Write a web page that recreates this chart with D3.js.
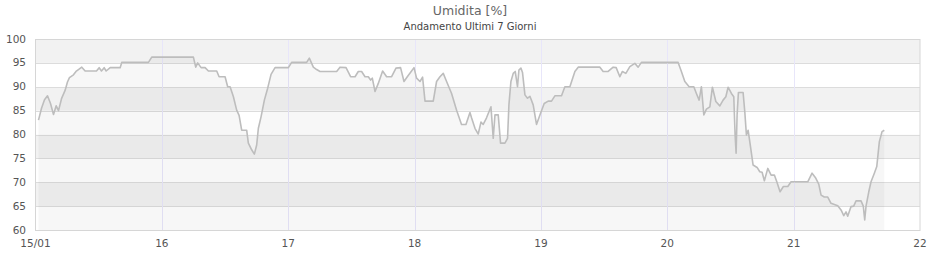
<!doctype html>
<html>
<head>
<meta charset="utf-8">
<style>
    body { margin: 0; background: #fff; }
    text { font-family: "DejaVu Sans", sans-serif; }
</style>
<script src="https://d3js.org/d3.v7.min.js"></script>
</head>
<body>
<svg width="940" height="260"></svg>
<script>
// ore dal 15/01 00:00, umidita in %
var ore = [0.57,1.14,1.71,2.28,2.85,3.42,3.93,4.37,4.94,5.64,6.07,6.45,7.21,7.69,8.16,8.79,9.43,10.44,11.58,12.09,
    12.53,13.04,13.42,14.18,16.08,16.38,21.45,22.08,29.99,30.43,30.81,31.45,32.21,32.84,34.42,34.87,36.01,36.50,36.96,37.59,
    38.21,38.67,39.16,40.11,40.43,41.06,41.57,42.01,42.33,42.84,43.47,44.10,44.74,45.50,48.03,48.65,51.50,52.01,52.77,53.40,
    54.04,57.20,57.84,58.98,59.85,60.69,61.31,61.94,62.59,63.21,63.65,63.97,64.49,65.11,65.93,66.69,67.64,68.47,69.34,69.99,
    70.62,71.43,71.89,72.38,73.03,73.52,73.98,75.55,76.18,76.82,77.45,78.08,79.03,79.98,80.92,81.76,82.52,82.82,83.47,84.09,
    84.61,85.04,85.67,86.51,86.94,87.27,87.89,88.33,89.16,89.66,89.92,90.30,90.74,91.12,91.55,91.82,92.20,92.50,92.96,93.45,
    93.91,94.53,95.16,95.81,96.62,97.38,98.01,98.65,99.91,100.55,101.50,102.45,103.08,107.20,107.82,108.77,109.72,110.29,110.99,111.48,
    112.13,112.89,113.84,114.47,115.09,122.06,122.68,123.33,124.15,125.04,125.53,126.05,126.48,126.94,127.43,128.08,128.57,129.22,129.98,130.60,
    131.12,131.55,132.18,132.63,132.88,133.07,133.26,133.51,134.40,134.72,135.03,135.35,135.67,136.30,137.06,137.57,138.01,138.44,139.09,139.72,
    140.34,140.80,141.42,142.05,142.89,143.51,146.68,147.50,148.12,148.77,149.21,149.83,150.48,151.10,152.38,153.00,153.52,153.95,154.27,154.90,
    155.41,155.85,156.80,157.23,157.50,157.75,158.27,158.70,159.33,159.79,160.28,160.79,161.22];
var umidita = [83,85.5,87.3,88.1,86.5,84.2,86,85,87.5,89.3,91,91.9,92.5,93.2,93.6,94.1,93.3,93.3,93.3,94,
    93.3,94,93.3,94,94,95.1,95.1,96.2,96.2,94.1,95,94,94,93.3,93.3,92.1,92.1,90,90,87.9,
    85.1,84,80.9,80.9,78.2,76.8,75.9,77.8,81.3,83.7,87.2,89.7,92.6,94,94,95.1,95.1,96,94.1,93.6,
    93.2,93.2,94.1,94,92.1,92.1,93.2,93.2,92.1,92.1,91.4,91.8,89,90.7,93.3,92.1,92.1,93.9,94,91.1,
    92.1,93.3,94,91.8,91.1,92,87,87,91.1,92.1,92.8,91.1,88.6,85.1,82.1,82.1,84.6,83.5,81.3,80.1,
    82.6,82.1,83.5,85.8,79.2,84.1,84.1,78.2,78.2,79.2,86.2,91.1,92.8,93.2,90,93.5,93.9,93,88.3,87.6,
    88,86.2,82.1,84.1,86.5,87,87,88.1,88.1,90,90,93.2,94.1,94.1,93.2,93.2,94.1,94,92.1,93.2,
    92.8,94.2,94.9,94.1,95.1,95.1,93.2,91.1,90,90,88.6,87.2,90,84.1,85.3,85.8,89.9,86.9,86,87.2,
    87.9,89.9,88.6,87.9,79.9,76.1,84.1,88.8,88.8,84.8,79.9,80.9,78.5,73.6,73.1,72.2,72.1,70.3,72.9,71.5,
    71.5,70.1,68,69.1,69.1,70.1,70.1,71.9,71,69.6,67.3,66.9,66.9,65.6,65.1,64.2,63,63.8,62.9,64.9,
    65,66.1,66.1,65,62.1,65,68,70.1,71.9,73.3,78.5,80.6,80.9];

var yTicks = [60, 65, 70, 75, 80, 85, 90, 95, 100];
var xTicks = [0, 24, 48, 72, 96, 120, 144, 168];
var xLabels = ["15/01", "16", "17", "18", "19", "20", "21", "22"];

var svg = d3.select("svg");
var mLeft = 35.5, mRight = 920, mTop = 39, mBottom = 230;

var x = d3.scaleLinear().domain([0, 168]).range([mLeft, mRight]);
var y = d3.scaleLinear().domain([60, 100]).range([mBottom, mTop]);

var data = ore.map(function(h, i) { return { h: h, v: umidita[i] }; });

// fasce alternate
svg.append("g").selectAll("rect")
    .data(yTicks.slice(0, -1))
    .enter().append("rect")
    .attr("x", mLeft)
    .attr("width", mRight - mLeft)
    .attr("y", function(d) { return y(d + 5); })
    .attr("height", function(d) { return y(d) - y(d + 5); })
    .attr("fill", function(d, i) { return i % 2 == 1 ? "#f2f2f2" : "#ffffff"; });

// griglia orizzontale
svg.append("g").selectAll("line")
    .data(yTicks)
    .enter().append("line")
    .attr("x1", mLeft).attr("x2", mRight)
    .attr("y1", function(d) { return Math.round(y(d)) + 0.5; })
    .attr("y2", function(d) { return Math.round(y(d)) + 0.5; })
    .attr("stroke", "#dcdcdc");

// griglia verticale
svg.append("g").selectAll("line")
    .data(xTicks.slice(1, -1))
    .enter().append("line")
    .attr("x1", function(d) { return Math.round(x(d)) + 0.5; })
    .attr("x2", function(d) { return Math.round(x(d)) + 0.5; })
    .attr("y1", mTop).attr("y2", mBottom)
    .attr("stroke", "#e8e6fa");

// area sotto la linea
var area = d3.area()
    .x(function(d) { return x(d.h); })
    .y0(mBottom)
    .y1(function(d) { return y(d.v); });
svg.append("path")
    .datum(data)
    .attr("d", area)
    .attr("fill", "rgba(0,0,0,0.032)");

var line = d3.line()
    .x(function(d) { return x(d.h); })
    .y(function(d) { return y(d.v); });
svg.append("path")
    .datum(data)
    .attr("d", line)
    .attr("fill", "none")
    .attr("stroke", "#bdbdbd")
    .attr("stroke-width", 1.6)
    .attr("stroke-linejoin", "round");

// bordo
svg.append("rect")
    .attr("x", mLeft).attr("y", mTop + 0.5)
    .attr("width", mRight - mLeft).attr("height", mBottom - mTop)
    .attr("fill", "none")
    .attr("stroke", "#d6d6d6");

// etichette asse y
svg.append("g").selectAll("text")
    .data(yTicks)
    .enter().append("text")
    .attr("x", 26)
    .attr("y", function(d) { return y(d) + 3.5; })
    .attr("text-anchor", "end")
    .attr("font-size", 10.5)
    .attr("fill", "#555")
    .text(function(d) { return d; });

// etichette asse x
svg.append("g").selectAll("text")
    .data(xTicks)
    .enter().append("text")
    .attr("x", function(d) { return x(d); })
    .attr("y", 247)
    .attr("text-anchor", "middle")
    .attr("font-size", 10.5)
    .attr("fill", "#555")
    .text(function(d, i) { return xLabels[i]; });

svg.append("text")
    .attr("x", 470).attr("y", 15)
    .attr("text-anchor", "middle")
    .attr("font-size", 12.5)
    .attr("fill", "#666")
    .text("Umidita [%]");

svg.append("text")
    .attr("x", 470).attr("y", 30)
    .attr("text-anchor", "middle")
    .attr("font-size", 10)
    .attr("fill", "#444")
    .text("Andamento Ultimi 7 Giorni");
</script>
</body>
</html>
